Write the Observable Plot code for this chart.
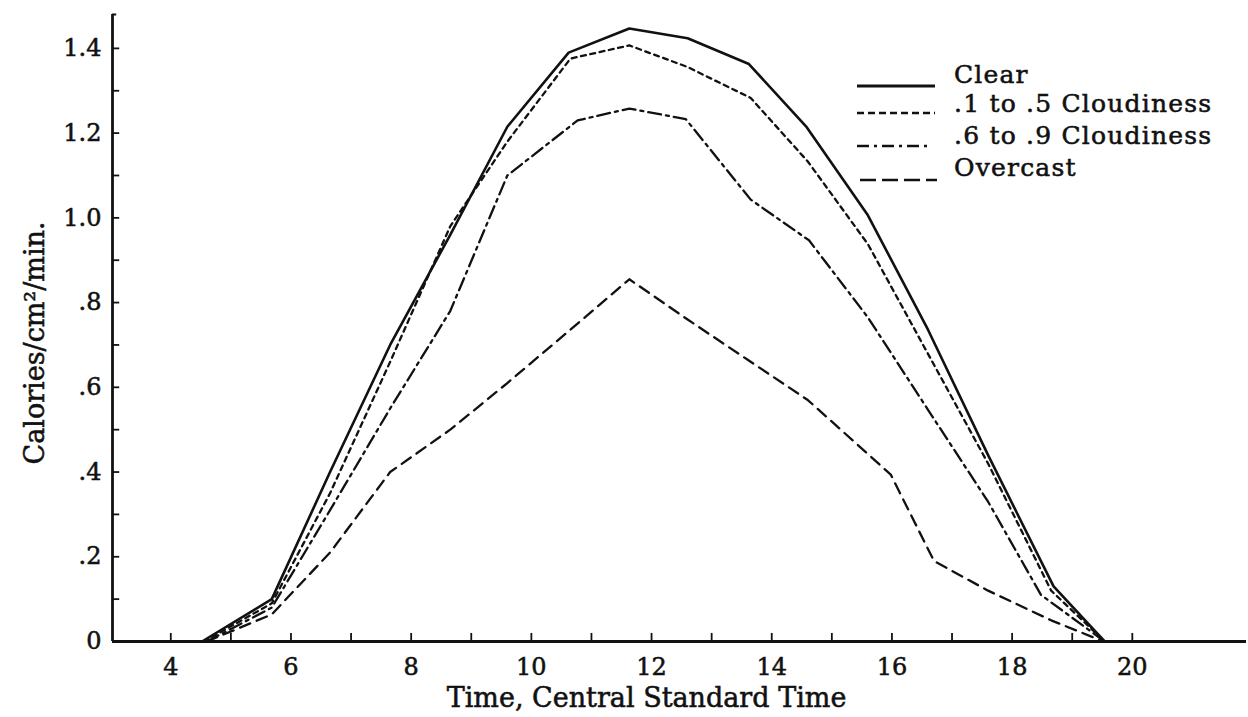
<!DOCTYPE html>
<html>
<head>
<meta charset="utf-8">
<script src="https://cdn.jsdelivr.net/npm/d3@7"></script>
<script src="https://cdn.jsdelivr.net/npm/@observablehq/plot@0.6"></script>
<style>
  html, body { margin: 0; padding: 0; background: #fff; }
  #wrap { position: relative; width: 1248px; height: 717px; }
  #legend { position: absolute; left: 0; top: 0; }
  #wrap text { stroke: #111; stroke-width: 0.55px; }
</style>
</head>
<body>
<div id="wrap"></div>
<script>
// ---- data ----
const seriesNames = ["Clear", ".1 to .5 Cloudiness", ".6 to .9 Cloudiness", "Overcast"];

const clearTime = [4.52, 5.68, 6.65, 7.65, 8.65, 9.6, 10.62, 11.63, 12.6, 13.62, 14.57, 15.6, 16.6, 17.6, 18.69, 19.54];
const clearVal  = [0, 0.10, 0.40, 0.70, 0.96, 1.215, 1.39, 1.447, 1.424, 1.363, 1.216, 1.006, 0.736, 0.44, 0.13, 0];

const lightTime = [4.55, 5.68, 6.65, 7.65, 8.65, 9.6, 10.65, 11.63, 12.6, 13.65, 14.6, 15.6, 16.6, 17.6, 18.65, 19.54];
const lightVal  = [0, 0.09, 0.35, 0.66, 0.98, 1.18, 1.376, 1.407, 1.356, 1.283, 1.133, 0.938, 0.679, 0.42, 0.12, 0];

const heavyTime = [4.6, 5.68, 6.65, 7.65, 8.65, 9.6, 10.77, 11.63, 12.57, 13.65, 14.62, 15.6, 16.6, 17.6, 18.48, 19.54];
const heavyVal  = [0, 0.08, 0.31, 0.55, 0.78, 1.10, 1.23, 1.258, 1.233, 1.043, 0.947, 0.765, 0.547, 0.33, 0.11, 0];

const overTime = [4.6, 5.68, 6.65, 7.65, 8.65, 9.6, 10.6, 11.63, 12.6, 13.6, 14.6, 15.98, 16.7, 17.6, 18.65, 19.52];
const overVal  = [0, 0.064, 0.21, 0.40, 0.50, 0.61, 0.73, 0.855, 0.76, 0.665, 0.57, 0.394, 0.19, 0.12, 0.05, 0];

const xLabelTicks = [4, 6, 8, 10, 12, 14, 16, 18, 20];
const xMinorTicks = [4, 5, 6, 7, 8, 9, 10, 11, 12, 13, 14, 15, 16, 17, 18, 19, 20];
const yLabelTicks = [0, 0.2, 0.4, 0.6, 0.8, 1.0, 1.2, 1.4];
const yTickLabels = ["0", ".2", ".4", ".6", ".8", "1.0", "1.2", "1.4"];
const yMinorTicks = [0.1, 0.2, 0.3, 0.4, 0.5, 0.6, 0.7, 0.8, 0.9, 1.0, 1.1, 1.2, 1.3, 1.4];

const xTitle = "Time, Central Standard Time";
const yTitle = "Calories/cm\u00B2/min.";

const xDomain = [3.03, 21.9];
const yDomain = [0, 1.48];

// ---- styles ----
const dashes = [null, "5,4.5", "13,5,3,5", "11,7"];
const widths = [2.6, 2.3, 2.3, 2.3];

const series = [
  [clearTime, clearVal],
  [lightTime, lightVal],
  [heavyTime, heavyVal],
  [overTime, overVal]
].map(([t, v], k) => t.map((x, i) => ({x, y: v[i], s: seriesNames[k]})));

const labelMap = new Map(yLabelTicks.map((v, i) => [v, yTickLabels[i]]));
const ink = "#111";

const lineMarks = series.map((data, k) =>
  Plot.line(data, {x: "x", y: "y", stroke: ink, strokeWidth: widths[k],
    strokeDasharray: dashes[k] ?? undefined, strokeLinejoin: "round"})
);

const chart = Plot.plot({
  width: 1248,
  height: 717,
  marginLeft: 112,
  marginRight: 2,
  marginTop: 14,
  marginBottom: 76,
  x: {domain: xDomain},
  y: {domain: yDomain},
  style: {fontFamily: "DejaVu Serif", fontSize: "24px", color: ink, background: "#fff", overflow: "visible"},
  marks: [
    Plot.axisX(xLabelTicks, {tickSize: 0, tickPadding: 16, label: null, fontSize: 24}),
    Plot.axisY(yLabelTicks, {tickSize: 0, tickPadding: 11, label: null, fontSize: 24,
      tickFormat: d => labelMap.get(d)}),
    Plot.ruleY([0], {x1: xDomain[0], x2: xDomain[1], stroke: ink, strokeWidth: 2.8}),
    Plot.ruleX([xDomain[0]], {y1: 0, y2: yDomain[1], stroke: ink, strokeWidth: 2.8}),
    Plot.ruleY([yDomain[1]], {x1: xDomain[0], x2: xDomain[0] + 0.07, stroke: ink, strokeWidth: 2}),
    Plot.ruleX(xMinorTicks, {x: d => d, y1: 0, y2: 0.019, stroke: ink, strokeWidth: 1.8}),
    Plot.ruleY(yMinorTicks, {y: d => d, x1: xDomain[0], x2: xDomain[0] + 0.12, stroke: ink, strokeWidth: 1.8}),
    ...lineMarks,
    Plot.text([yTitle], {text: d => d, frameAnchor: "left", rotate: -90, dx: -77, dy: 15,
      lineAnchor: "middle", textAnchor: "middle", fontSize: 27, fill: ink}),
    Plot.text([xTitle], {text: d => d, frameAnchor: "bottom", dx: -33, dy: 57,
      lineAnchor: "middle", textAnchor: "middle", fontSize: 27, fill: ink})
  ]
});

const wrap = document.getElementById("wrap");
wrap.appendChild(chart);

// ---- legend (overlay) ----
const ns = "http://www.w3.org/2000/svg";
const lg = document.createElementNS(ns, "svg");
lg.setAttribute("id", "legend");
lg.setAttribute("width", 1248);
lg.setAttribute("height", 220);
const legendRows = [
  {lineY: 86, textY: 83, x1: 857, x2: 935, dash: null},
  {lineY: 113, textY: 112, x1: 857, x2: 935, dash: "7,4"},
  {lineY: 146, textY: 144, x1: 857, x2: 928, dash: "12,5,3,5"},
  {lineY: 180, textY: 176, x1: 860, x2: 937, dash: "16,6"}
];
legendRows.forEach((r, k) => {
  const l = document.createElementNS(ns, "line");
  l.setAttribute("x1", r.x1); l.setAttribute("x2", r.x2);
  l.setAttribute("y1", r.lineY); l.setAttribute("y2", r.lineY);
  l.setAttribute("stroke", ink); l.setAttribute("stroke-width", k === 0 ? 2.8 : 2.4);
  if (r.dash) l.setAttribute("stroke-dasharray", r.dash);
  lg.appendChild(l);
  const t = document.createElementNS(ns, "text");
  t.setAttribute("x", 954); t.setAttribute("y", r.textY);
  t.setAttribute("font-family", "DejaVu Serif");
  t.setAttribute("font-size", 25);
  t.setAttribute("letter-spacing", "1.2");
  t.setAttribute("fill", ink);
  t.textContent = seriesNames[k];
  lg.appendChild(t);
});
wrap.appendChild(lg);
</script>
</body>
</html>
